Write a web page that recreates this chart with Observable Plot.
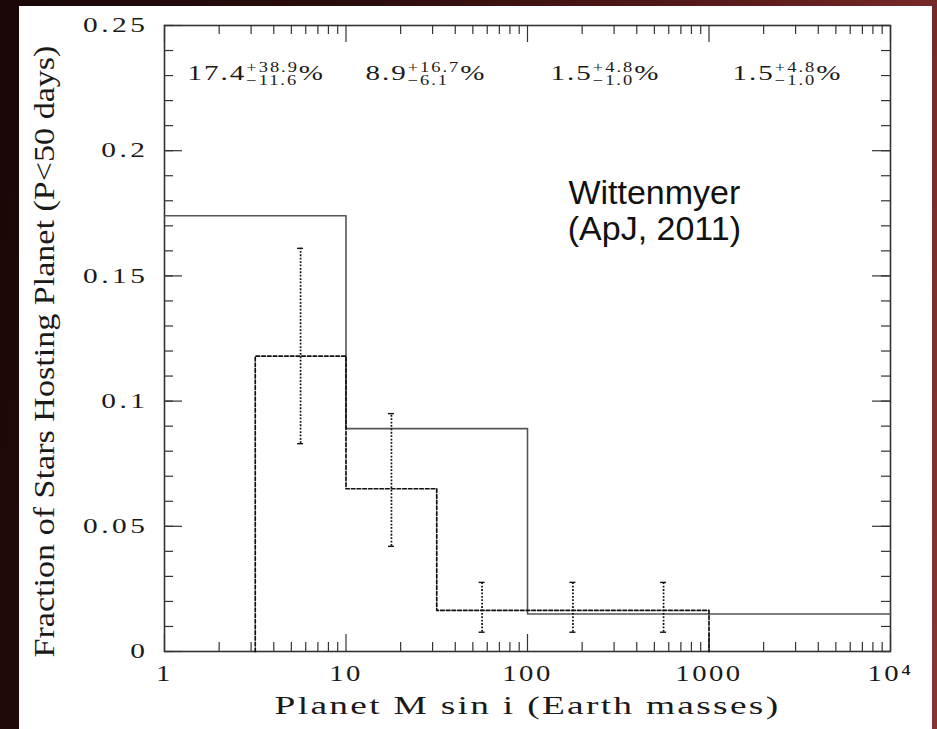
<!DOCTYPE html>
<html><head><meta charset="utf-8">
<script src="https://cdn.jsdelivr.net/npm/d3@7"></script>
<script src="https://cdn.jsdelivr.net/npm/@observablehq/plot@0.6"></script>
<style>
html,body{margin:0;padding:0;}
body{width:937px;height:729px;overflow:hidden;position:relative;
  background:linear-gradient(100deg,#1a0707 0%,#2c0d0d 35%,#5a1b1b 70%,#8a3232 100%);}
#panel{position:absolute;left:19px;top:6px;width:913px;height:723px;background:#fff;}
g[aria-label="x-axis tick label"]{font-size:23px;letter-spacing:2px;}
g[aria-label="y-axis tick label"]{font-size:21px;letter-spacing:2.5px;}
</style></head><body><div id="panel"></div>
<script>
// ---- data ----
const solidEdges = [1, 10, 100, 1000, 10000];
const solidValues = [0.174, 0.089, 0.015, 0.015];
const dashedX = [3.162, 3.162, 10, 31.62, 1000];
const dashedY = [0, 0.118, 0.065, 0.0164, 0];
const errX = [5.62, 17.8, 56.2, 178, 562];
const errLo = [0.083, 0.042, 0.0077, 0.0077, 0.0077];
const errHi = [0.161, 0.095, 0.0276, 0.0276, 0.0276];
const pctMain = ["17.4", "8.9", "1.5", "1.5"];
const pctPlus = ["+38.9", "+16.7", "+4.8", "+4.8"];
const pctMinus = ["\u221211.6", "\u22126.1", "\u22121.0", "\u22121.0"];
const pctX = [1.34, 12.8, 134, 1349];
const pctY = 0.231;
const xTicks = [1, 10, 100, 1000, 10000];
const xTickLabels = ["1", "10", "100", "1000", "10\u2074"];
const yTicks = [0, 0.05, 0.1, 0.15, 0.2, 0.25];
const yTickLabels = ["0", "0.05", "0.1", "0.15", "0.2", "0.25"];
const xLabel = "Planet M sin i (Earth masses)";
const yLabel = "Fraction of Stars Hosting Planet (P<50 days)";
const noteLines = ["Wittenmyer", "(ApJ, 2011)"];
const notePos = {x: 500, y: 0.176};

// ---- derived tables ----
const solidPts = solidEdges.map((e, i) => ({x: e, y: solidValues[Math.min(i, solidValues.length - 1)]}));
const dashedPts = dashedX.map((x, i) => ({x, y: dashedY[i]}));
const errPts = errX.map((x, i) => ({x, lo: errLo[i], hi: errHi[i]}));
const xMinor = d3.scaleLog().domain([1, 10000]).ticks().filter(d => !xTicks.includes(d));
const yMinor = d3.range(0, 26).map(i => i / 100);

const W = 913, H = 723, mL = 145, mR = 42, mT = 19, mB = 78;
const pW = W - mL - mR, pH = H - mT - mB;
const tickStyle = {stroke: "#333", strokeWidth: 1.2};
const ink = "#1a1a1a";

const chart = Plot.plot({
  width: W, height: H, marginLeft: mL, marginRight: mR, marginTop: mT, marginBottom: mB,
  x: {type: "log", domain: [1, 10000]},
  y: {domain: [0, 0.25]},
  style: {background: "white", fontFamily: "'Liberation Serif', serif", color: ink, overflow: "visible"},
  marks: [
    Plot.ruleX(xMinor, {x: d => d, insetTop: pH - 9, ...tickStyle}),
    Plot.ruleX(xMinor, {x: d => d, insetBottom: pH - 9, ...tickStyle}),
    Plot.ruleX(xTicks, {x: d => d, insetTop: pH - 17, ...tickStyle}),
    Plot.ruleX(xTicks, {x: d => d, insetBottom: pH - 17, ...tickStyle}),
    Plot.ruleY(yMinor, {y: d => d, insetRight: pW - 9, ...tickStyle}),
    Plot.ruleY(yMinor, {y: d => d, insetLeft: pW - 9, ...tickStyle}),
    Plot.ruleY(yTicks, {y: d => d, insetRight: pW - 18, ...tickStyle}),
    Plot.ruleY(yTicks, {y: d => d, insetLeft: pW - 18, ...tickStyle}),
    Plot.frame({stroke: "#333", strokeWidth: 1.6}),
    Plot.axisX(xTicks, {tickSize: 0, tickPadding: 13, tickFormat: d => xTickLabels[xTicks.indexOf(d)], label: null, fill: ink}),
    Plot.axisY(yTicks, {tickSize: 0, tickPadding: 16, tickFormat: d => yTickLabels[yTicks.indexOf(d)], label: null, fill: ink}),
    Plot.line(solidPts, {x: "x", y: "y", curve: "step-after", stroke: "#555", strokeWidth: 1.6}),
    Plot.line(dashedPts, {x: "x", y: "y", curve: "step-after", stroke: "#111", strokeWidth: 1.7, strokeDasharray: "3.5,2.2"}),
    Plot.ruleX(errPts, {x: "x", y1: "lo", y2: "hi", stroke: "#111", strokeWidth: 1.7, strokeDasharray: "1.8,1.6"}),
    Plot.ruleY(errPts, {y: "lo", x1: "x", x2: "x", insetLeft: -3, insetRight: -3, stroke: "#111", strokeWidth: 1.4}),
    Plot.ruleY(errPts, {y: "hi", x1: "x", x2: "x", insetLeft: -3, insetRight: -3, stroke: "#111", strokeWidth: 1.4}),
    Plot.text(pctMain, {x: (d, i) => pctX[i], y: () => pctY, text: d => d, textAnchor: "start", fontSize: 22, fill: ink}),
    Plot.text([noteLines.join("\n")], {x: () => notePos.x, y: () => notePos.y, text: d => d, fontFamily: "'Liberation Sans', Arial, sans-serif", fontSize: 34, lineHeight: 1.04, fill: "#111"}),
    Plot.text([xLabel], {frameAnchor: "bottom", dy: 54, lineAnchor: "middle", textAnchor: "middle", text: d => d, fontSize: 26, fill: ink}),
    Plot.text([yLabel], {frameAnchor: "left", dx: -120, dy: 13, rotate: -90, lineAnchor: "middle", textAnchor: "middle", text: d => d, fontSize: 30, fill: ink})
  ]
});
document.getElementById("panel").append(chart);

// ---- post styling: widen the plotting font (spacing + mild horizontal stretch) ----
function stretch(node, sx) {
  const t = node.getAttribute("transform") || "";
  node.setAttribute("transform", `${t} scale(${sx},1)`);
}
function fitWidth(node, target) {
  const w = node.getComputedTextLength();
  if (w > 0) stretch(node, target / w);
}
const svg = d3.select(chart);
const allTexts = svg.selectAll("text").nodes();
svg.selectAll('g[aria-label="x-axis tick label"] text').each(function() { stretch(this, 1.25); });
svg.selectAll('g[aria-label="y-axis tick label"] text').each(function() { stretch(this, 1.4); });
allTexts.filter(n => n.textContent === xLabel).forEach(n => { n.style.letterSpacing = "1.6px"; fitWidth(n, 506); });
allTexts.filter(n => n.textContent === yLabel).forEach(n => fitWidth(n, 612));
allTexts.filter(n => pctMain.includes(n.textContent) && !n.closest('g[aria-label$="tick label"]'))
  .forEach((n, i) => {
    const node = d3.select(n);
    n.style.letterSpacing = "1.5px";
    node.text("");
    node.append("tspan").text(pctMain[i]);
    const sup = node.append("tspan").attr("font-size", 14).attr("dy", -8).text(pctPlus[i]);
    const supW = sup.node().getComputedTextLength();
    const sub = node.append("tspan").attr("font-size", 14).attr("dy", 13).attr("dx", -supW).text(pctMinus[i]);
    const subW = sub.node().getComputedTextLength();
    node.append("tspan").attr("dy", -5).attr("dx", Math.max(0, supW - subW)).text("%");
    stretch(n, 1.32);
  });
</script></body></html>
